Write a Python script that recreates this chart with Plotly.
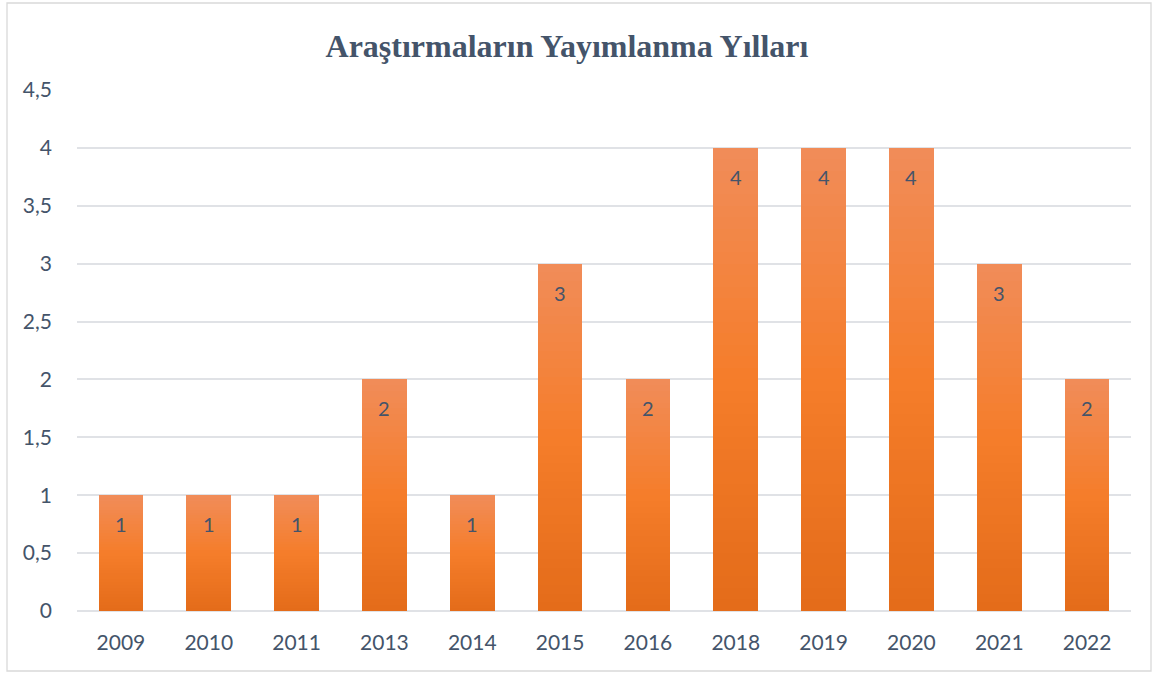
import plotly.graph_objects as go

years = ["2009", "2010", "2011", "2013", "2014", "2015", "2016", "2018", "2019", "2020", "2021", "2022"]
counts = [1, 1, 1, 2, 1, 3, 2, 4, 4, 4, 3, 2]
y_ticks = [0, 0.5, 1, 1.5, 2, 2.5, 3, 3.5, 4, 4.5]
y_tick_labels = ["0", "0,5", "1", "1,5", "2", "2,5", "3", "3,5", "4", "4,5"]
title_text = "Araştırmaların Yayımlanma Yılları"

W, H = 1153, 675
ml, mr, mt, mb = 77, 22, 90, 64

# gradient approximation: stack slices of each bar, light at top, dark at bottom
top_c = (241, 140, 88)
mid_c = (245, 125, 42)
bot_c = (228, 108, 26)
N = 40

def lerp(a, b, t):
    return tuple(int(round(a[k] + (b[k] - a[k]) * t)) for k in range(3))

fig = go.Figure()
for i in range(N):
    t = i / (N - 1)  # 0 bottom -> 1 top
    if t < 0.5:
        c = lerp(bot_c, mid_c, t / 0.5)
    else:
        c = lerp(mid_c, top_c, (t - 0.5) / 0.5)
    fig.add_trace(go.Bar(
        x=years, y=[v / N for v in counts],
        marker=dict(color="rgb(%d,%d,%d)" % c, line=dict(width=0)),
        width=0.51, showlegend=False, hoverinfo="skip",
    ))

for idx, v in enumerate(counts):
    fig.add_annotation(x=idx, y=v, xref="x", yref="y", text=str(v), showarrow=False,
                       yanchor="top", yshift=-15,
                       font=dict(family="Lato, Open Sans, sans-serif", size=20, color="#44546A"))

pw = W - ml - mr
ph = H - mt - mb
fig.add_shape(type="rect", xref="paper", yref="paper",
              x0=(7 - ml) / pw, x1=(1151 - ml) / pw,
              y0=(H - mb - 671) / ph, y1=(H - mb - 3) / ph,
              line=dict(color="#D9D9D9", width=1.3), layer="below")

fig.update_layout(
    barmode="stack",
    width=W, height=H,
    margin=dict(l=ml, r=mr, t=mt, b=mb),
    paper_bgcolor="white", plot_bgcolor="white",
    title=dict(text="<b>" + title_text + "</b>", x=567 / W, xanchor="center", y=1 - 46 / H, yanchor="middle",
               font=dict(family="Liberation Serif, Times New Roman, serif", size=32, color="#44546A")),
    bargap=0.49,
    xaxis=dict(type="category", range=[-0.5, len(years) - 0.5], autorange=False,
               showgrid=False, showline=False, ticks="",
               tickfont=dict(family="Lato, Open Sans, sans-serif", size=21, color="#44546A"),
               ticklabelstandoff=17),
    yaxis=dict(range=[0, 4.5], autorange=False, tickvals=y_ticks, ticktext=y_tick_labels,
               showgrid=True, gridcolor="#E0E2E6", gridwidth=1.5, zeroline=True, zerolinecolor="#E0E2E6",
               zerolinewidth=1.5, showline=False, ticks="",
               tickfont=dict(family="Lato, Open Sans, sans-serif", size=21, color="#44546A"),
               ticklabelstandoff=24),
)

fig.write_html("out.html", config={"displayModeBar": False},
               post_script="document.body.style.margin='0';")
